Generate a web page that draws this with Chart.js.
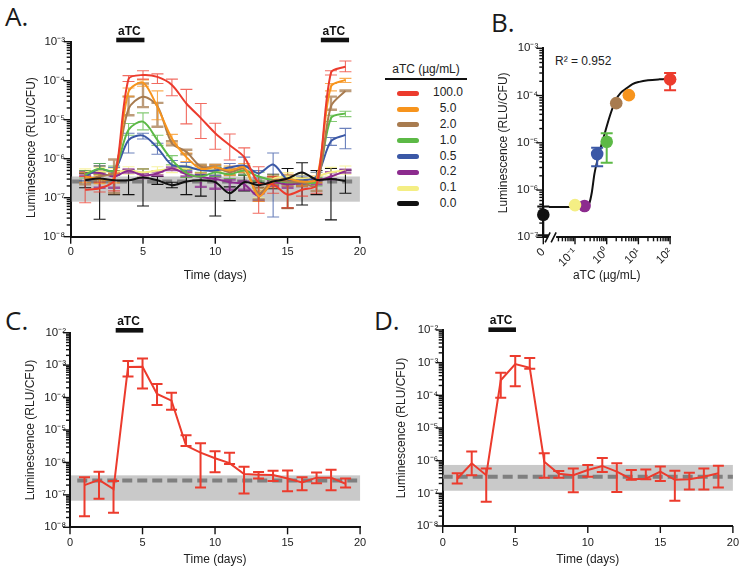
<!DOCTYPE html>
<html>
<head>
<meta charset="utf-8">
<script src="https://cdn.jsdelivr.net/npm/chart.js@4.4.1/dist/chart.umd.min.js"></script>
<style>
  html, body { margin: 0; padding: 0; background: #fff; }
  body { position: relative; width: 749px; height: 573px; overflow: hidden;
         font-family: "Liberation Sans", Arial, sans-serif; color: #222; }
  canvas, .abs { position: absolute; }
  .panel { font-family: "Open Sans", sans-serif; font-size: 26px; line-height: 26px; color: #1a1a1a; }
  #legend { left: 385px; top: 62px; width: 82px; font-size: 12px; }
  #legend .ttl { text-align: center; border-bottom: 2px solid #111; padding-bottom: 2px; line-height: 14px; }
  #legend .rows { margin-top: 5.4px; }
  #legend .row { position: relative; height: 15.8px; }
  #legend .sw { position: absolute; left: 12px; top: 5.4px; width: 22px; height: 5px; border-radius: 2.5px; }
  #legend .lab { position: absolute; left: 40px; width: 46px; text-align: center; top: 0; line-height: 15.8px; }
  #r2 { left: 555px; top: 54px; font-size: 12px; }
</style>
</head>
<body>
<div class="abs panel" style="left:5px;top:3px">A.</div>
<div class="abs panel" style="left:491px;top:9px">B.</div>
<div class="abs panel" style="left:5px;top:307px">C.</div>
<div class="abs panel" style="left:374px;top:307px">D.</div>
<div id="legend" class="abs"><div class="ttl">aTC (µg/mL)</div><div class="rows" id="rows"></div></div>
<div id="r2" class="abs">R² = 0.952</div>

<canvas id="chartA" width="375" height="290" style="left:0;top:0"></canvas>
<canvas id="chartB" width="279" height="290" style="left:470px;top:0"></canvas>
<canvas id="chartC" width="375" height="283" style="left:0;top:290px"></canvas>
<canvas id="chartD" width="374" height="283" style="left:375px;top:290px"></canvas>

<script>
// ---------- data ----------
const days = [1, 2, 3, 4, 5, 6, 7, 8, 9, 10, 11, 12, 13, 14, 15, 16, 17, 18, 19];
const doseLabels = ['100.0', '5.0', '2.0', '1.0', '0.5', '0.2', '0.1', '0.0'];
const doseColors = ['#ec3b2d', '#f7941d', '#a87b4f', '#5cb946', '#3b58a6', '#8c2b8e', '#f4ee84', '#111111'];

// panel A, one array per aTC dose (mean, upper and lower error)
const a100 = [1.6e-7, 1.75e-7, 2.8e-7, 1.1e-4, 1.4e-4, 1.25e-4, 7.8e-5, 2.6e-5, 1.1e-5, 4.5e-6, 2.2e-6, 1.1e-6, 2.4e-7, 2.2e-7, 1.2e-7, 1.6e-7, 2.1e-7, 1.6e-4, 2.3e-4];
const a100Hi = [3.5e-7, 2.5e-7, 4.5e-7, 1.35e-4, 1.8e-4, 1.5e-4, 1.1e-4, 6e-5, 2.6e-5, 8.1e-6, 4.3e-6, 1.9e-6, 6.2e-7, 3.5e-7, 2e-7, 2.5e-7, 3e-7, 1.8e-4, 3.2e-4];
const a100Lo = [7.4e-8, 1.4e-7, 1.5e-7, 9.5e-5, 1.1e-4, 8.5e-5, 4.1e-5, 7.8e-6, 3.3e-6, 1.75e-6, 9.3e-7, 5.1e-7, 4e-8, 1.3e-7, 5.5e-8, 1.1e-7, 1.3e-7, 1.4e-4, 1.7e-4];

const a5 = [3.5e-7, 3e-7, 3.2e-7, 5.2e-5, 8.9e-5, 2.1e-5, 3.3e-6, 1.1e-6, 5.5e-7, 6e-7, 5e-7, 6e-7, 1.1e-7, 2.5e-7, 3e-7, 2.6e-7, 3e-7, 7.1e-5, 1.05e-4];
const a5Hi = [4.5e-7, 3.8e-7, 4.2e-7, 6.5e-5, 1.05e-4, 5.5e-5, 4.2e-6, 1.4e-6, 6.5e-7, 7e-7, 6.5e-7, 7.5e-7, 1.5e-7, 3.2e-7, 4e-7, 3.2e-7, 3.6e-7, 8.5e-5, 1.15e-4];
const a5Lo = [2.5e-7, 2.3e-7, 2.4e-7, 4e-5, 7.2e-5, 1e-5, 2.5e-6, 8.5e-7, 4.3e-7, 4.8e-7, 3.8e-7, 4.5e-7, 8e-8, 1.8e-7, 2.2e-7, 2e-7, 2.4e-7, 5.5e-5, 9e-5];

const a2 = [3e-7, 3.5e-7, 4.5e-7, 1.9e-5, 3.9e-5, 2.2e-5, 2.5e-6, 1.5e-6, 6.3e-7, 6e-7, 4.5e-7, 5.5e-7, 1.3e-7, 2.8e-7, 2.6e-7, 2.5e-7, 2e-7, 2.2e-5, 5.5e-5];
const a2Hi = [4.3e-7, 4.5e-7, 9.5e-7, 3.9e-5, 8.5e-5, 2.7e-5, 2.8e-6, 1.7e-6, 7e-7, 7e-7, 5.5e-7, 6.5e-7, 1.8e-7, 3.5e-7, 3.5e-7, 3e-7, 2.6e-7, 3.9e-5, 5.6e-5];
const a2Lo = [2.2e-7, 2.6e-7, 1.3e-7, 1.3e-5, 2.1e-5, 6.6e-6, 2.2e-6, 1.3e-6, 5.5e-7, 5e-7, 3.8e-7, 4.5e-7, 9e-8, 2.2e-7, 5.4e-8, 2e-7, 1.5e-7, 1.8e-5, 5.4e-5];

const a1 = [4e-7, 5.5e-7, 5e-7, 5.5e-6, 8.9e-6, 3e-6, 9.3e-7, 4.3e-7, 3.5e-7, 4.5e-7, 4e-7, 5e-7, 3.5e-7, 2.8e-7, 2.5e-7, 2.5e-7, 2.6e-7, 1.1e-5, 1.45e-5];
const a1Hi = [5e-7, 7.5e-7, 6.5e-7, 8e-6, 1.5e-5, 4e-6, 1.2e-6, 6e-7, 4.5e-7, 6e-7, 5e-7, 6.5e-7, 4.5e-7, 3.5e-7, 3.2e-7, 3.2e-7, 3.3e-7, 1.3e-5, 1.65e-5];
const a1Lo = [3.2e-7, 4e-7, 3.8e-7, 4e-6, 5.5e-6, 2.2e-6, 7e-7, 3.3e-7, 2.7e-7, 3.5e-7, 3.1e-7, 3.8e-7, 2.7e-7, 2.2e-7, 2e-7, 2e-7, 2e-7, 9e-6, 1.2e-5];

const a05 = [3.5e-7, 5.5e-7, 4.8e-7, 3e-6, 3.9e-6, 1.9e-6, 6.9e-7, 6.3e-7, 5.1e-7, 5e-7, 6e-7, 6.6e-7, 4.2e-7, 7.1e-7, 2.9e-7, 2.8e-7, 3.5e-7, 2.8e-6, 4.1e-6];
const a05Hi = [4.5e-7, 7.5e-7, 6e-7, 4.5e-6, 4.5e-6, 2.5e-6, 9e-7, 8e-7, 6.5e-7, 6.5e-7, 7.5e-7, 1.1e-6, 5e-7, 1.4e-6, 3.8e-7, 3.6e-7, 4.5e-7, 3.5e-6, 6e-6];
const a05Lo = [2.7e-7, 4e-7, 3.8e-7, 1.4e-6, 3.2e-6, 1.3e-6, 5.5e-7, 5e-7, 4e-7, 3.8e-7, 4.8e-7, 4e-7, 3.2e-7, 3.2e-8, 2.2e-7, 2.2e-7, 2.7e-7, 2.2e-6, 1.8e-6];

const a02 = [4.3e-7, 4.3e-7, 3.5e-7, 4.9e-7, 3.7e-7, 4.2e-7, 5.6e-7, 4e-7, 3.4e-7, 3e-7, 2.5e-7, 2.2e-7, 1.1e-7, 2.4e-7, 2.2e-7, 2.4e-7, 2.6e-7, 3.5e-7, 4.8e-7];
const a02Hi = [4.8e-7, 4.8e-7, 4.3e-7, 5.3e-7, 4.2e-7, 4.7e-7, 6e-7, 4.5e-7, 3.9e-7, 3.5e-7, 2.9e-7, 2.6e-7, 1.3e-7, 2.8e-7, 2.6e-7, 2.8e-7, 3e-7, 4.5e-7, 5.2e-7];
const a02Lo = [3.7e-7, 1.8e-7, 1.8e-7, 4.4e-7, 3.2e-7, 3.7e-7, 5.1e-7, 3.5e-7, 1.9e-7, 1.7e-7, 1.6e-7, 1.6e-7, 8.5e-8, 2e-7, 1.8e-7, 2e-7, 2.2e-7, 3e-7, 4.4e-7];

const a01 = [4.5e-7, 4.8e-7, 4.6e-7, 5e-7, 4.5e-7, 5e-7, 5.5e-7, 5.5e-7, 5.5e-7, 5e-7, 5e-7, 5e-7, 1.3e-7, 3e-7, 3.5e-7, 3e-7, 3.5e-7, 4.5e-7, 5e-7];
const a01Hi = [5.5e-7, 6e-7, 5.6e-7, 6.2e-7, 5.5e-7, 6.2e-7, 6.8e-7, 6.8e-7, 7e-7, 6.2e-7, 6.2e-7, 6.2e-7, 1.7e-7, 3.8e-7, 4.4e-7, 3.8e-7, 4.4e-7, 6e-7, 6.5e-7];
const a01Lo = [3.6e-7, 3.8e-7, 3.7e-7, 4e-7, 3.6e-7, 4e-7, 4.4e-7, 4.4e-7, 4.4e-7, 4e-7, 4e-7, 4e-7, 1e-7, 2.4e-7, 2.8e-7, 2.4e-7, 2.8e-7, 3.6e-7, 4e-7];

const a0 = [2.8e-7, 3.1e-7, 2.8e-7, 2.8e-7, 3.3e-7, 2.8e-7, 2.1e-7, 2.6e-7, 2.8e-7, 2.5e-7, 1.3e-7, 2.5e-7, 2.1e-7, 2.6e-7, 3.1e-7, 4.4e-7, 2.9e-7, 3e-7, 2.7e-7];
const a0Hi = [4.2e-7, 6.5e-7, 4.9e-7, 5.1e-7, 5.5e-7, 3.5e-7, 2.5e-7, 5.3e-7, 3.8e-7, 6e-7, 1.9e-7, 3.8e-7, 2.5e-7, 4e-7, 5.6e-7, 7.9e-7, 5e-7, 5.6e-7, 5.1e-7];
const a0Lo = [1.8e-7, 2.8e-8, 1.2e-7, 1.2e-7, 6.1e-8, 2.2e-7, 1.8e-7, 1.2e-7, 1.1e-7, 3.4e-8, 8.4e-8, 1.5e-7, 1.8e-7, 1.7e-7, 5.4e-8, 6.5e-8, 1.2e-7, 2.7e-8, 1.3e-7];

const bandA = { lo: 7.9e-8, hi: 3.5e-7, base: 2.6e-7 };
const atcA = [[3.15, 5.1], [17.3, 19.25]];

// panel B: dose response (0 is drawn at the left edge of the broken axis)
const bDoses = [0, 0.2, 0.1, 0.5, 1, 2, 5, 100];
const bColors = ['#111111', '#8c2b8e', '#f4ee84', '#3b58a6', '#5cb946', '#a87b4f', '#f7941d', '#ec3b2d'];
const bMeans = [3e-7, 4.6e-7, 4.8e-7, 5.8e-6, 1.05e-5, 6.9e-5, 1.02e-4, 2.2e-4];
const bHi = [4.5e-7, null, null, 7.9e-6, 1.6e-5, null, null, 3e-4];
const bLo = [1.1e-7, null, null, 3.2e-6, 3.8e-6, null, null, 1.3e-4];
const fitX = [0.015, 0.1, 0.2, 0.28, 0.34, 0.41, 0.52, 0.66, 0.85, 1.07, 1.4, 1.95, 2.8, 4.1, 6.5, 10.7, 20, 46, 100];
const fitY = [4.4e-7, 4.4e-7, 4.5e-7, 5.2e-7, 9e-7, 2.2e-6, 4.5e-6, 8.3e-6, 1.5e-5, 2.6e-5, 4.6e-5, 8.1e-5, 1.15e-4, 1.4e-4, 1.75e-4, 1.95e-4, 2.1e-4, 2.2e-4, 2.25e-4];
const bZeroAt = 0.01;

// panel C
const cMean = [2e-7, 2.9e-7, 1.5e-7, 8.7e-4, 8.9e-4, 1.3e-4, 8e-5, 3.3e-6, 2e-6, 1.35e-6, 9.5e-7, 4.4e-7, 4.2e-7, 4.1e-7, 3.2e-7, 2.4e-7, 3.4e-7, 3.4e-7, 2.2e-7];
const cHi = [3.5e-7, 5.2e-7, 2.7e-7, 1.35e-3, 1.6e-3, 2.6e-4, 1.4e-4, 6.9e-6, 3.9e-6, 2.2e-6, 2e-6, 7.4e-7, 5.1e-7, 5.5e-7, 5.6e-7, 3.5e-7, 4.9e-7, 5.9e-7, 3.2e-7];
const cLo = [2.2e-8, 7.6e-8, 2.8e-8, 4.5e-4, 1.9e-4, 5.9e-5, 4.2e-5, 3.2e-6, 1.7e-7, 5e-7, 9e-7, 1.1e-7, 3.2e-7, 2.7e-7, 1.3e-7, 1.4e-7, 2.3e-7, 1.4e-7, 1.7e-7];
const bandC = { lo: 6.6e-8, hi: 4e-7, base: 2.75e-7 };

// panel D
const dMean = [2.8e-7, 8.3e-7, 3.6e-7, 2.9e-4, 9.1e-4, 7e-4, 9.3e-7, 4e-7, 3.6e-7, 5.2e-7, 6.9e-7, 4.6e-7, 2.7e-7, 2.8e-7, 4.6e-7, 2.6e-7, 2.7e-7, 3.2e-7, 4.1e-7];
const dHi = [4.1e-7, 1.9e-6, 5.8e-7, 4.9e-4, 1.6e-3, 1.4e-3, 1.7e-6, 4.8e-7, 5.8e-7, 7.4e-7, 1.2e-6, 8.3e-7, 5.2e-7, 5.4e-7, 6.6e-7, 4.9e-7, 4.3e-7, 5.8e-7, 7e-7];
const dLo = [2e-7, 3.6e-7, 5.5e-8, 8.5e-5, 1.9e-4, 6.5e-4, 3e-7, 3e-7, 1.07e-7, 3.2e-7, 4.5e-7, 1.1e-7, 2.6e-7, 2.7e-7, 2.4e-7, 5.9e-8, 1.3e-7, 1.3e-7, 1.5e-7];
const bandD = { lo: 1.2e-7, hi: 7.4e-7, base: 3.2e-7 };
const atcCD = [[3.15, 5.05]];

const yTitle = 'Luminescence (RLU/CFU)';

// ---------- legend ----------
const rows = document.getElementById('rows');
doseLabels.forEach((lab, i) => {
  rows.insertAdjacentHTML('beforeend',
    `<div class="row"><div class="sw" style="background:${doseColors[i]}"></div><div class="lab">${lab}</div></div>`);
});

// ---------- helpers ----------
const SUP = {'-': '⁻', '0': '⁰', '1': '¹', '2': '²', '3': '³', '4': '⁴', '5': '⁵', '6': '⁶', '7': '⁷', '8': '⁸', '9': '⁹'};
function isPow10(v) {
  const e = Math.log10(v);
  return Math.abs(e - Math.round(e)) < 1e-6;
}
function powLabel(v) {
  if (!isPow10(v)) return '';
  return '10' + String(Math.round(Math.log10(v))).split('').map(c => SUP[c]).join('');
}
// major decade ticks plus 2..9 minor ticks
function logTicks(min, max, minorFrom) {
  const out = [];
  for (let e = Math.round(Math.log10(min)); e <= Math.round(Math.log10(max)); e++) {
    const m = Math.pow(10, e);
    out.push({ value: m, big: true });
    if (e < Math.round(Math.log10(max))) {
      for (let k = 2; k <= 9; k++) {
        if (k * m >= minorFrom) out.push({ value: k * m, big: false });
      }
    }
  }
  return out;
}

// ---------- plugins ----------
const band = {
  id: 'band',
  beforeDatasetsDraw(chart, args, o) {
    const { ctx } = chart, xs = chart.scales.x, ys = chart.scales.y;
    ctx.save();
    ctx.fillStyle = '#c9c9c9';
    const x0 = xs.getPixelForValue(o.x0) + 1, x1 = xs.getPixelForValue(o.x1);
    const yt = ys.getPixelForValue(o.hi), yb = ys.getPixelForValue(o.lo);
    ctx.fillRect(x0, yt, x1 - x0, yb - yt);
    ctx.strokeStyle = '#7f7f7f';
    ctx.lineWidth = 4;
    ctx.setLineDash([10, 5]);
    const yl = ys.getPixelForValue(o.base);
    ctx.beginPath();
    ctx.moveTo(xs.getPixelForValue(o.d0), yl);
    ctx.lineTo(xs.getPixelForValue(o.d1), yl);
    ctx.stroke();
    ctx.restore();
  }
};

function drawErrors(chart) {
  const ctx = chart.ctx, ys = chart.scales.y;
  for (let i = chart.data.datasets.length - 1; i >= 0; i--) {
    const ds = chart.data.datasets[i];
    if (!ds.errHi) continue;
    const meta = chart.getDatasetMeta(i);
    ctx.save();
    ctx.lineWidth = ds.errWidth;
    meta.data.forEach((pt, j) => {
      const hi = ds.errHi[j], lo = ds.errLo[j];
      if (hi == null) return;
      ctx.strokeStyle = Array.isArray(ds.errColor) ? ds.errColor[j] : ds.errColor;
      const yh = ys.getPixelForValue(hi), yl = ys.getPixelForValue(lo), x = pt.x, w = ds.capW / 2;
      ctx.beginPath();
      ctx.moveTo(x, yh); ctx.lineTo(x, yl);
      ctx.moveTo(x - w, yh); ctx.lineTo(x + w, yh);
      ctx.moveTo(x - w, yl); ctx.lineTo(x + w, yl);
      ctx.stroke();
    });
    ctx.restore();
  }
}
const errorBars = {
  id: 'errorBars',
  beforeDatasetsDraw(chart, args, o) { if (o.under) drawErrors(chart); },
  afterDatasetsDraw(chart, args, o) { if (!o.under) drawErrors(chart); }
};

const tickMarks = {
  id: 'tickMarks',
  afterDraw(chart) {
    const ctx = chart.ctx;
    ctx.save();
    ctx.strokeStyle = '#111';
    ctx.lineWidth = 1.4;
    ['x', 'y'].forEach(id => {
      const s = chart.scales[id];
      s.ticks.forEach(t => {
        const len = t.big === false ? 4 : 7;
        const p = s.getPixelForValue(t.value);
        ctx.beginPath();
        if (id === 'y') { ctx.moveTo(s.right, p); ctx.lineTo(s.right - len, p); }
        else { ctx.moveTo(p, s.top); ctx.lineTo(p, s.top + len); }
        ctx.stroke();
      });
    });
    ctx.restore();
  }
};

const atcBars = {
  id: 'atcBars',
  afterDraw(chart, args, o) {
    const ctx = chart.ctx, xs = chart.scales.x;
    ctx.save();
    ctx.fillStyle = '#111';
    ctx.font = 'bold 12px "Liberation Sans", Arial, sans-serif';
    ctx.textAlign = 'center';
    ctx.textBaseline = 'middle';
    o.bars.forEach(([d0, d1]) => {
      const x0 = xs.getPixelForValue(d0), x1 = xs.getPixelForValue(d1);
      ctx.fillRect(x0, o.y - 2.3, x1 - x0, 4.6);
      ctx.fillText('aTC', (x0 + x1) / 2 - 1, o.labelY);
    });
    ctx.restore();
  }
};

const axisBreak = {
  id: 'axisBreak',
  afterDraw(chart, args, o) {
    const ctx = chart.ctx, xs = chart.scales.x;
    const cx = xs.getPixelForValue(o.at), y = xs.top;
    ctx.save();
    ctx.fillStyle = '#fff';
    ctx.fillRect(cx - 4, y - 3, 8, 6);
    ctx.strokeStyle = '#111';
    ctx.lineWidth = 1.6;
    ctx.beginPath();
    ctx.moveTo(cx - 7, y + 5); ctx.lineTo(cx - 2, y - 5);
    ctx.moveTo(cx - 1, y + 5); ctx.lineTo(cx + 4, y - 5);
    ctx.stroke();
    ctx.restore();
  }
};

// ---------- scale builders ----------
const tickFont = { size: 11.5 };
const titleFont = { size: 12 };
function logY(min, max, w, pad, titlePad, title) {
  return {
    type: 'logarithmic', min, max,
    afterBuildTicks: s => { s.ticks = logTicks(min, max, 0); },
    afterFit: s => { s.width = w; },
    ticks: { autoSkip: false, padding: pad, font: tickFont, color: '#222', callback: v => powLabel(v) },
    grid: { display: false, drawTicks: false },
    border: { display: true, color: '#111', width: 2 },
    title: { display: true, text: title || yTitle, font: titleFont, color: '#222', padding: { top: titlePad, bottom: 0 } }
  };
}
function dayX(h, pad, titlePad) {
  return {
    type: 'linear', min: 0, max: 20,
    afterFit: s => { s.height = h; },
    ticks: { stepSize: 5, padding: pad, font: { size: 11 }, color: '#222' },
    grid: { display: false, drawTicks: false },
    border: { display: true, color: '#111', width: 2 },
    title: { display: true, text: 'Time (days)', font: titleFont, color: '#222', padding: { top: 0, bottom: titlePad } }
  };
}
const base = { responsive: false, animation: false, devicePixelRatio: 1, events: [] };

// ---------- panel A ----------
const seriesA = [
  [a100, a100Hi, a100Lo], [a5, a5Hi, a5Lo], [a2, a2Hi, a2Lo], [a1, a1Hi, a1Lo],
  [a05, a05Hi, a05Lo], [a02, a02Hi, a02Lo], [a01, a01Hi, a01Lo], [a0, a0Hi, a0Lo]
];
const drawOrderA = [1, 2, 3, 4, 5, 6, 7, 0];
const datasetsA = seriesA.map(([m, hi, lo], i) => ({
  data: days.map((d, j) => ({ x: d, y: m[j] })),
  borderColor: doseColors[i],
  borderWidth: 2,
  pointRadius: 0,
  tension: 0.3,
  order: drawOrderA[i],
  errHi: hi, errLo: lo,
  errColor: i === 7 ? '#111' : doseColors[i] + 'c0',
  errWidth: (i === 2 || i === 5) ? 2.4 : 1.1,
  capW: 12
}));

new Chart(document.getElementById('chartA'), {
  type: 'line',
  data: { datasets: datasetsA },
  options: {
    ...base,
    layout: { padding: { left: 0, right: 12, top: 41.7, bottom: 0 } },
    scales: {
      x: dayX(53.3, 9, 6.8),
      // the panel A axis title sits a little below the plot centre
      y: logY(1e-8, 1e-3, 70.7, 5.7, 24.5, yTitle + '\u00a0\u00a0\u00a0\u00a0\u00a0')
    },
    plugins: {
      legend: { display: false }, tooltip: { enabled: false },
      band: { x0: 0, x1: 20, d0: 0.1, d1: 19.7, ...bandA },
      errorBars: { under: true },
      atcBars: { bars: atcA, y: 40, labelY: 31.3 }
    }
  },
  plugins: [band, errorBars, tickMarks, atcBars]
});

// ---------- panel B ----------
new Chart(document.getElementById('chartB'), {
  type: 'scatter',
  data: {
    datasets: [
      {
        data: bDoses.map((d, i) => ({ x: d === 0 ? bZeroAt : d, y: bMeans[i] })),
        pointBackgroundColor: bColors,
        pointBorderColor: bColors,
        pointBorderWidth: 0,
        pointRadius: 6.3,
        clip: false,
        order: 0,
        errHi: bHi, errLo: bLo, errColor: bColors, errWidth: 2, capW: 12
      },
      {
        data: fitX.map((x, i) => ({ x, y: fitY[i] })),
        showLine: true,
        borderColor: '#111',
        borderWidth: 2,
        pointRadius: 0,
        cubicInterpolationMode: 'monotone',
        clip: false,
        order: 1
      }
    ]
  },
  options: {
    ...base,
    layout: { padding: { left: 0, right: 78.9, top: 48.3, bottom: 0 } },
    scales: {
      x: {
        type: 'logarithmic', min: bZeroAt, max: 100,
        afterBuildTicks: s => { s.ticks = logTicks(bZeroAt, 100, 0.03); },
        afterFit: s => { s.height = 52.7; },
        ticks: {
          autoSkip: false, minRotation: 45, maxRotation: 45, padding: 8, font: tickFont, color: '#222',
          callback: v => (Math.abs(v - bZeroAt) < 1e-9 ? '0' : powLabel(v))
        },
        grid: { display: false, drawTicks: false },
        border: { display: true, color: '#111', width: 2 },
        title: { display: true, text: 'aTC (µg/mL)', font: titleFont, color: '#222', padding: { top: 0, bottom: 7.1 } }
      },
      y: logY(1e-7, 1e-3, 73.3, 5, 26.1)
    },
    plugins: {
      legend: { display: false }, tooltip: { enabled: false },
      errorBars: { under: false },
      axisBreak: { at: 0.019 }
    }
  },
  plugins: [errorBars, tickMarks, axisBreak]
});

// ---------- panels C and D ----------
function timeCourse(id, mean, hi, lo, bandVals, geo) {
  new Chart(document.getElementById(id), {
    type: 'line',
    data: {
      datasets: [{
        data: days.map((d, j) => ({ x: d, y: mean[j] })),
        borderColor: '#ec3b2d',
        borderWidth: 2,
        pointRadius: 0,
        tension: 0,
        errHi: hi, errLo: lo, errColor: '#ec3b2d', errWidth: 2, capW: 11
      }]
    },
    options: {
      ...base,
      layout: { padding: { left: 0, right: geo.right, top: geo.top, bottom: 0 } },
      scales: { x: dayX(geo.xh, geo.xpad, geo.xtitle), y: logY(1e-8, 1e-2, geo.yw, geo.ypad, geo.ytitle) },
      plugins: {
        legend: { display: false }, tooltip: { enabled: false },
        band: { x0: 0, x1: 20, d0: geo.d0, d1: geo.d1, ...bandVals },
        errorBars: { under: false },
        atcBars: { bars: atcCD, y: geo.barY, labelY: geo.labelY }
      }
    },
    plugins: [band, errorBars, tickMarks, atcBars]
  });
}
timeCourse('chartC', cMean, cHi, cLo, bandC,
  { right: 12.3, top: 42.7, xh: 45.7, xpad: 8.8, xtitle: 6.5, yw: 70, ypad: 4, ytitle: 23.3, d0: 0.5, d1: 19.8, barY: 40.3, labelY: 31.2 });
timeCourse('chartD', dMean, dHi, dLo, bandD,
  { right: 12.3, top: 40, xh: 47, xpad: 10, xtitle: 5.8, yw: 67.7, ypad: 4.4, ytitle: 19.5, d0: 0, d1: 20, barY: 39.7, labelY: 30.5 });
</script>
</body>
</html>
